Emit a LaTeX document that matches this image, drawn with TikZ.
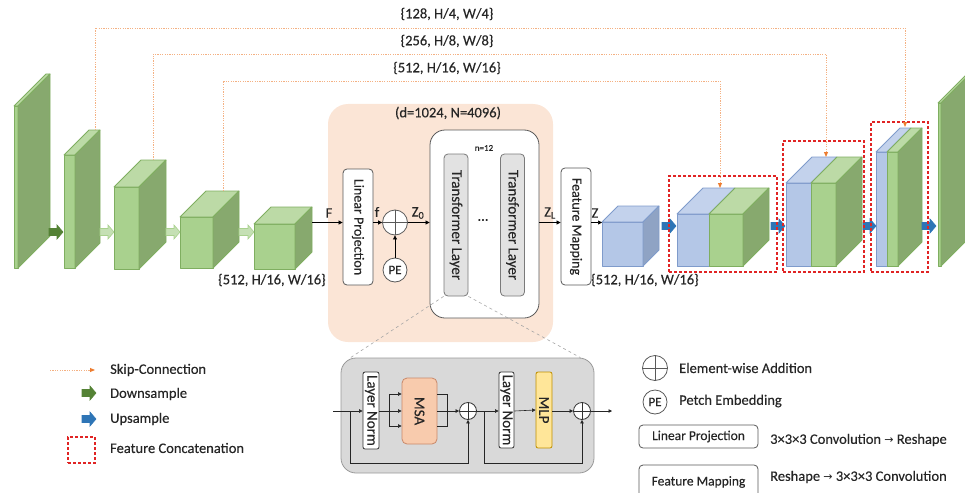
\documentclass[tikz,border=0pt]{standalone}
\usepackage{fontspec}
\setmainfont{Carlito}[FakeBold=0.25]
\newfontfamily\djv{DejaVu Sans}
\usetikzlibrary{arrows.meta,calc}
\definecolor{gfront}{HTML}{A9D18E}
\definecolor{gtop}{HTML}{BCDAA6}
\definecolor{gside}{HTML}{87A96E}
\definecolor{gedge}{HTML}{7FAE60}
\definecolor{bfront}{HTML}{B4C7E7}
\definecolor{btop}{HTML}{C3D2EC}
\definecolor{bside}{HTML}{8FA3C4}
\definecolor{bedge}{HTML}{7F9BCB}
\definecolor{peach}{HTML}{FBE5D6}
\definecolor{skipline}{HTML}{F4B183}
\definecolor{skiphead}{HTML}{ED7D31}
\definecolor{dgreen}{HTML}{548235}
\definecolor{lgarrow}{HTML}{C5E0B4}
\definecolor{uparrow}{HTML}{2E75B6}
\definecolor{concat}{HTML}{E02424}
\definecolor{msa}{HTML}{F8CBAD}
\definecolor{msaedge}{HTML}{C9896A}
\definecolor{mlp}{HTML}{FFE699}
\definecolor{mlpedge}{HTML}{BF9000}
\definecolor{insetgray}{HTML}{D9D9D9}
\definecolor{tlgray}{HTML}{E2E2E2}
\definecolor{boxedge}{HTML}{595959}
\definecolor{txt}{HTML}{262626}
% cuboid: x1 y1 x2 y2 depth colourprefix
\newcommand\cubeblock[6]{%
  \filldraw[fill=#6front,draw=#6edge,line width=0.8pt,line join=round] (#1,#2) rectangle (#3,#4);
  \filldraw[fill=#6top,draw=#6edge,line width=0.8pt,line join=round] (#1,#2) -- ({#1+#5},{#2-#5}) -- ({#3+#5},{#2-#5}) -- (#3,#2) -- cycle;
  \filldraw[fill=#6side,draw=#6edge,line width=0.8pt,line join=round] (#3,#2) -- ({#3+#5},{#2-#5}) -- ({#3+#5},{#4-#5}) -- (#3,#4) -- cycle;}
% concatenated block: x1 xm x2 y1 y2 depth
\newcommand\catblock[6]{%
  \filldraw[fill=bfront,draw=bedge,line width=0.8pt,line join=round] (#1,#4) rectangle (#2,#5);
  \filldraw[fill=btop,draw=bedge,line width=0.8pt,line join=round] (#1,#4) -- ({#1+#6},{#4-#6}) -- ({#2+#6},{#4-#6}) -- (#2,#4) -- cycle;
  \cubeblock{#2}{#4}{#3}{#5}{#6}{g}}
% block arrow: x1 x2 y fill draw
\newcommand\barrow[5]{%
  \filldraw[fill=#4,draw=#5,line width=0.6pt,line join=miter] (#1,{#3-3.5}) -- ({#2-6},{#3-3.5}) -- ({#2-6},{#3-7}) -- (#2,#3) -- ({#2-6},{#3+7}) -- ({#2-6},{#3+3.5}) -- (#1,{#3+3.5}) -- cycle;}
\begin{document}
\begin{tikzpicture}[x=1pt,y=-1pt,
  every node/.style={text=txt,font=\fontsize{14.5}{17}\selectfont},
  rbox/.style={draw=boxedge,line width=0.8pt,rounded corners=4pt,fill=white,inner sep=0pt},
  arr/.style={-{Triangle[length=4pt,width=4pt]},line width=0.7pt,draw=black},
  iarr/.style={-{Triangle[length=3.5pt,width=3.5pt]},line width=0.6pt,draw=black!85},
  skip/.style={draw=skipline,line width=0.9pt,dash pattern=on 1.2pt off 1.2pt,-{Triangle[length=5pt,width=4pt,color=skiphead]}},
  concatbox/.style={draw=concat,line width=1.1pt,dash pattern=on 3pt off 2pt},
  circ/.style={circle,draw=boxedge,line width=0.8pt,fill=white,inner sep=0pt},
  lbl/.style={inner sep=0pt},
  rot/.style={font=\fontsize{14}{16}\selectfont},
]
\useasboundingbox (0,0) rectangle (965,492);

% ---------- transformer region ----------
\node[fill=peach,rounded corners=20pt,minimum width=225pt,minimum height=238pt,inner sep=0pt] (peachbox) at (440.5,223) {};
\node[lbl] (dN) at (448,113) {(d=1024, N=4096)};
\node[rbox,rounded corners=15pt,minimum width=109pt,minimum height=188pt] (big) at (484.5,224) {};
\node[lbl,font=\fontsize{9}{10}\selectfont] (n12) at (484,148) {n=12};
\node[rbox,rot,font=\fontsize{15}{17}\selectfont,fill=tlgray,draw=boxedge!80,minimum width=24pt,minimum height=142pt] (tl1) at (456,225) {\rotatebox{-90}{Transformer Layer}};
\node[rbox,rot,font=\fontsize{15}{17}\selectfont,fill=tlgray,draw=boxedge!80,minimum width=24pt,minimum height=142pt] (tl2) at (512.5,225) {\rotatebox{-90}{Transformer Layer}};
\node[lbl] (dots) at (483,220) {\ldots};
\node[rbox,rot,minimum width=30pt,minimum height=116pt] (lp) at (358,227) {\rotatebox{-90}{Linear Projection}};
\node[rbox,rot,minimum width=30pt,minimum height=117pt] (fm) at (576,226.5) {\rotatebox{-90}{Feature Mapping}};
\node[circ,minimum size=25pt] (plus) at (395,222.5) {};
\draw[boxedge,line width=0.8pt] (plus.north) -- (plus.south) (plus.west) -- (plus.east);
\node[circ,minimum size=24pt,font=\fontsize{13}{15}\selectfont] (pe) at (395,270) {PE};

% ---------- encoder ----------
\cubeblock{14}{106}{18}{268}{32}{g}
\cubeblock{64}{155}{75}{268}{25}{g}
\cubeblock{114}{187}{139}{269}{27}{g}
\cubeblock{180}{217}{213}{268}{26}{g}
\cubeblock{254}{224}{295}{269}{17}{g}
\barrow{49}{63}{232}{dgreen}{dgreen}
\barrow{100}{114}{232}{lgarrow}{gfront}
\barrow{166}{180}{232}{lgarrow}{gfront}
\barrow{239}{254}{232}{lgarrow}{gfront}
\node[lbl,anchor=west] (encdim) at (218,280) {\{512, H/16, W/16\}};
\coordinate (e5out) at (312,222.5);

% ---------- decoder ----------
\cubeblock{602}{222}{643}{266}{16}{b}
\node[lbl,anchor=west] (decdim) at (591,280) {\{512, H/16, W/16\}};
\catblock{677}{709}{743}{214}{266}{26}
\catblock{786}{811}{836}{183}{266}{26}
\catblock{876}{887}{898}{152}{266}{24}
\cubeblock{938}{103}{941}{266}{32}{g}
\barrow{662}{676}{226}{uparrow}{uparrow}
\barrow{771}{785}{226}{uparrow}{uparrow}
\barrow{863}{876}{226}{uparrow}{uparrow}
\barrow{922}{936}{226}{uparrow}{uparrow}
\node[concatbox,minimum width=108pt,minimum height=96pt,inner sep=0pt] (cat1) at (723,224) {};
\node[concatbox,minimum width=81pt,minimum height=131pt,inner sep=0pt] (cat2) at (823.5,206.5) {};
\node[concatbox,minimum width=57pt,minimum height=150pt,inner sep=0pt] (cat3) at (899.5,197) {};

% ---------- skip connections ----------
\coordinate (s1a) at (95,130);  \coordinate (s1b) at (905,127);
\coordinate (s2a) at (153,160); \coordinate (s2b) at (826,157);
\coordinate (s3a) at (223,191); \coordinate (s3b) at (720,188);
\draw[skip] (s1a) -- (95,28) -- (905,28) -- (s1b);
\draw[skip] (s2a) -- (153,54) -- (826,54) -- (s2b);
\draw[skip] (s3a) -- (223,81) -- (720,81) -- (s3b);
\node[lbl] (t1) at (447,14) {\{128, H/4, W/4\}};
\node[lbl] (t2) at (447,41) {\{256, H/8, W/8\}};
\node[lbl] (t3) at (447,68) {\{512, H/16, W/16\}};

% ---------- main arrows ----------
\draw[arr] (e5out) -- (e5out -| lp.west);
\node[lbl] (Fl) at (329,213) {F};
\draw[arr] (lp.east |- plus) -- (plus.west);
\node[lbl] (fl) at (377,212) {f};
\draw[arr] (pe) -- (plus);
\draw[arr] (plus.east) -- (plus.east -| big.west);
\node[lbl] (z0) at (418,213) {Z\textsubscript{0}};
\draw[arr] (big.east |- plus) -- (fm.west |- plus);
\node[lbl] (zl) at (550,213) {Z\textsubscript{L}};
\coordinate (bcin) at (602,222.5);
\draw[arr] (fm.east |- plus) -- (bcin);
\node[lbl] (zz) at (595,213) {Z};

% ---------- inset transformer layer ----------
\node[draw=black!40,fill=insetgray,line width=0.8pt,rounded corners=15pt,minimum width=253pt,minimum height=115pt,inner sep=0pt] (inset) at (467.5,415.5) {};
\draw[black!35,dashed,line width=0.6pt] (tl1.south west) -- ($(inset.north west)+(10,0)$);
\draw[black!35,dashed,line width=0.6pt] (tl1.south east) -- ($(inset.north east)+(-14,0)$);
\begin{scope}[every node/.append style={font=\fontsize{15}{17}\selectfont}]
\node[rbox,draw=black!80,rounded corners=2pt,minimum width=16pt,minimum height=77pt] (ln1) at (371,410.5) {\rotatebox{-90}{Layer Norm}};
\node[rbox,draw=msaedge,fill=msa,rounded corners=5pt,minimum width=35pt,minimum height=66pt] (msab) at (419.5,411) {\rotatebox{-90}{MSA}};
\node[rbox,draw=black!80,rounded corners=2pt,minimum width=15pt,minimum height=76pt] (ln2) at (506.5,410) {\rotatebox{-90}{Layer Norm}};
\node[rbox,draw=mlpedge,fill=mlp,rounded corners=2pt,minimum width=16pt,minimum height=76pt] (mlpb) at (544,410) {\rotatebox{-90}{MLP}};
\end{scope}
\node[circ,draw=black!80,minimum size=17pt] (c1) at (468,411) {};
\draw[black!80,line width=0.6pt] (c1.north) -- (c1.south) (c1.west) -- (c1.east);
\node[circ,draw=black!80,minimum size=17pt] (c2) at (582,411) {};
\draw[black!80,line width=0.6pt] (c2.north) -- (c2.south) (c2.west) -- (c2.east);
\coordinate (iin) at (333,411);
\coordinate (iout) at (612,411);
\coordinate (sk1) at (350,411);
\coordinate (sk2) at (484,411);
\draw[iarr] (iin) -- (iin -| ln1.west);
\draw[line width=0.6pt,black!85] (ln1.east |- iin) -- (389,411) (389,394) -- (389,426);
\draw[iarr] (389,394) -- (389,394 -| msab.west);
\draw[iarr] (389,411) -- (389,411 -| msab.west);
\draw[iarr] (389,426) -- (389,426 -| msab.west);
\draw[line width=0.6pt,black!85] (msab.east |- 0,394) -- (447,394) -- (447,426) -- (msab.east |- 0,426);
\draw[iarr] (msab.east |- iin) -- (c1.west);
\draw[iarr] (sk1) -- (350,463) -| (c1.south);
\draw[iarr] (c1.east) -- (c1.east -| ln2.west);
\draw[iarr] (sk2) -- (484,463) -| (c2.south);
\draw[iarr] (ln2.east |- iin) -- (ln2.east -| mlpb.west);
\draw[iarr] (mlpb.east |- iin) -- (c2.west);
\draw[iarr] (c2.east) -- (iout);

% ---------- legend left ----------
\coordinate (lg1a) at (50,370); \coordinate (lg1b) at (95,370);
\draw[skip] (lg1a) -- (lg1b);
\node[lbl,anchor=west] (lt1) at (110,370) {Skip-Connection};
\barrow{82}{96}{393}{dgreen}{dgreen}
\node[lbl,anchor=west] (lt2) at (110,394) {Downsample};
\barrow{82}{96}{419}{uparrow}{uparrow}
\node[lbl,anchor=west] (lt3) at (110,419) {Upsample};
\node[concatbox,minimum width=27pt,minimum height=26pt,inner sep=0pt] (lgcat) at (81.5,450) {};
\node[lbl,anchor=west] (lt4) at (110,448) {Feature Concatenation};

% ---------- legend right ----------
\node[circ,minimum size=25pt] (lgplus) at (655,368) {};
\draw[boxedge,line width=0.8pt] (lgplus.north) -- (lgplus.south) (lgplus.west) -- (lgplus.east);
\node[lbl,anchor=west] (rt1) at (679,368) {Element-wise Addition};
\node[circ,minimum size=24pt,font=\fontsize{13}{15}\selectfont] (lgpe) at (655,402) {PE};
\node[lbl,anchor=west] (rt2) at (679,401) {Petch Embedding};
\node[rbox,minimum width=119pt,minimum height=23pt,font=\fontsize{13.5}{15}\selectfont] (lglp) at (698.5,436.5) {Linear Projection};
\node[lbl,anchor=west] (rt3) at (770,440) {3×3×3 Convolution {\djv\fontsize{11}{12}\selectfont →} Reshape};
\node[rbox,minimum width=119pt,minimum height=34pt,font=\fontsize{13.5}{15}\selectfont] (lgfm) at (698.5,482) {Feature Mapping};
\node[lbl,anchor=west] (rt4) at (770,477) {Reshape {\djv\fontsize{11}{12}\selectfont →} 3×3×3 Convolution};
\end{tikzpicture}
\end{document}
